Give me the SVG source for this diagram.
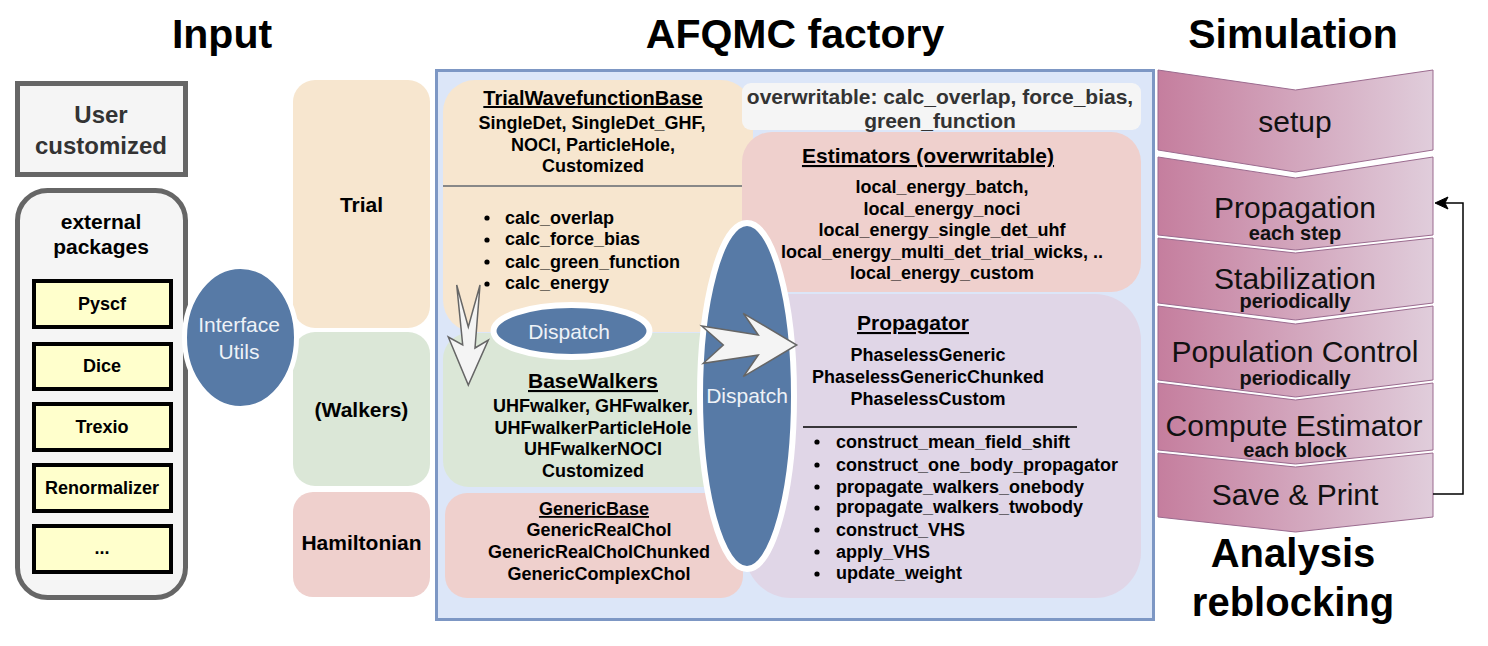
<svg xmlns="http://www.w3.org/2000/svg" width="1488" height="646" viewBox="0 0 1488 646">
<defs>
<linearGradient id="stepGrad" x1="0" y1="0" x2="1" y2="0">
<stop offset="0" stop-color="#c57e9e"/>
<stop offset="1" stop-color="#e0cddb"/>
</linearGradient>
</defs>
<style>
text{font-family:"Liberation Sans",Arial,Helvetica,sans-serif;}
.title{font-size:41px;font-weight:bold;fill:#000;text-anchor:middle;}
.b18{font-size:18px;font-weight:bold;fill:#000;}
.c{text-anchor:middle;}
.h21{font-size:21px;font-weight:bold;fill:#000;text-anchor:middle;text-decoration:underline;}
.lbl{font-size:21px;font-weight:bold;fill:#000;text-anchor:middle;}
.wt{font-size:21px;fill:#eef2f7;text-anchor:middle;}
.step{fill:url(#stepGrad);stroke:#9b6b8f;stroke-width:1;}
.st30{font-size:30px;fill:#111;text-anchor:middle;}
.st20{font-size:20px;font-weight:bold;fill:#111;text-anchor:middle;}
.ybox{fill:#ffffcc;stroke:#000;stroke-width:4;}
.disp{fill:#577aa6;stroke:#fff;stroke-width:6;}
.harrow{fill:#f4f4f4;stroke:#666;stroke-width:1.5;stroke-linejoin:miter;}
.dot{fill:#000;}
</style>

<!-- Titles -->
<text class="title" x="222" y="48">Input</text>
<text class="title" x="795" y="48">AFQMC factory</text>
<text class="title" x="1293" y="48">Simulation</text>

<!-- Input column -->
<g id="user-customized">
<rect x="17.5" y="83.5" width="168" height="91" fill="#f5f5f5" stroke="#666" stroke-width="5"/>
<text x="101" y="123" style="font-size:24px;font-weight:bold;fill:#333;text-anchor:middle">User</text>
<text x="101" y="154" style="font-size:24px;font-weight:bold;fill:#333;text-anchor:middle">customized</text>
</g>
<g id="external-packages">
<rect x="17.5" y="190.5" width="168" height="407" rx="30" fill="#f5f5f5" stroke="#666" stroke-width="5"/>
<text class="lbl" x="101" y="229">external</text>
<text class="lbl" x="101" y="254">packages</text>
</g>
<g id="pkg-pyscf"><rect class="ybox" x="34" y="281" width="137" height="46"/><text class="b18 c" x="102" y="310">Pyscf</text></g>
<g id="pkg-dice"><rect class="ybox" x="34" y="344" width="137" height="45"/><text class="b18 c" x="102" y="372">Dice</text></g>
<g id="pkg-trexio"><rect class="ybox" x="34" y="404" width="137" height="46"/><text class="b18 c" x="102" y="433">Trexio</text></g>
<g id="pkg-renormalizer"><rect class="ybox" x="34" y="465" width="137" height="46"/><text class="b18 c" x="102" y="494">Renormalizer</text></g>
<g id="pkg-more"><rect class="ybox" x="34" y="526" width="137" height="46"/><text class="b18 c" x="102" y="554">...</text></g>

<g id="trial"><rect x="293" y="80" width="137" height="248" rx="22" fill="#f7e6cf"/><text class="lbl" x="361.5" y="212">Trial</text></g>
<g id="walkers"><rect x="293" y="332" width="137" height="154" rx="22" fill="#dbe7d7"/><text class="lbl" x="361.5" y="417">(Walkers)</text></g>
<g id="hamiltonian"><rect x="293" y="492" width="137" height="105" rx="20" fill="#efd0cd"/><text class="lbl" x="361.5" y="550">Hamiltonian</text></g>

<g id="interface-utils">
<ellipse cx="240.5" cy="337.5" rx="56" ry="71" fill="#577aa6" stroke="#fff" stroke-width="5"/>
<text class="wt" x="239" y="332">Interface</text>
<text class="wt" x="239" y="359">Utils</text>
</g>

<!-- AFQMC factory -->
<g id="afqmc-factory">
<rect x="436.5" y="70.5" width="717" height="549" fill="#dce6f8" stroke="#7d97c4" stroke-width="3"/>
</g>

<g id="trial-wavefunction-base">
<rect x="443" y="80" width="310" height="252" rx="32" fill="#f7e6cf"/>
<line x1="443" y1="186" x2="742" y2="186" stroke="#888" stroke-width="2"/>
<text class="h21" x="593" y="105" style="font-size:20px">TrialWavefunctionBase</text>
<text class="b18 c" x="592" y="129">SingleDet, SingleDet_GHF,</text>
<text class="b18 c" x="593" y="151">NOCI, ParticleHole,</text>
<text class="b18 c" x="593" y="172">Customized</text>
<circle class="dot" cx="487" cy="218" r="2.6"/><text class="b18" x="505" y="224">calc_overlap</text>
<circle class="dot" cx="487" cy="240" r="2.6"/><text class="b18" x="505" y="245">calc_force_bias</text>
<circle class="dot" cx="487" cy="262" r="2.6"/><text class="b18" x="505" y="268">calc_green_function</text>
<circle class="dot" cx="487" cy="284" r="2.6"/><text class="b18" x="505" y="289">calc_energy</text>
</g>

<g id="base-walkers">
<rect x="443" y="333" width="320" height="154" rx="26" fill="#dbe7d7"/>
<text class="h21" x="593" y="388">BaseWalkers</text>
<text class="b18 c" x="593" y="412">UHFwalker, GHFwalker,</text>
<text class="b18 c" x="593" y="434">UHFwalkerParticleHole</text>
<text class="b18 c" x="593" y="455">UHFwalkerNOCI</text>
<text class="b18 c" x="593" y="477">Customized</text>
</g>

<g id="generic-base">
<rect x="445" y="493" width="298" height="105" rx="22" fill="#efd0cd"/>
<text class="b18 c" x="594" y="515" style="text-decoration:underline">GenericBase</text>
<text class="b18 c" x="599" y="536">GenericRealChol</text>
<text class="b18 c" x="599" y="558">GenericRealCholChunked</text>
<text class="b18 c" x="599" y="580">GenericComplexChol</text>
</g>

<g id="overwritable">
<rect x="742" y="83" width="399" height="47" rx="9" fill="#f5f5f5"/>
<text x="940" y="104" style="font-size:21px;font-weight:bold;fill:#333;text-anchor:middle">overwritable: calc_overlap, force_bias,</text>
<text x="940" y="128" style="font-size:21px;font-weight:bold;fill:#333;text-anchor:middle">green_function</text>
</g>

<g id="estimators">
<rect x="742" y="132" width="399" height="160" rx="30" fill="#efd0cd"/>
<text class="h21" x="928" y="163">Estimators (overwritable)</text>
<text class="b18 c" x="942" y="193">local_energy_batch,</text>
<text class="b18 c" x="942" y="215">local_energy_noci</text>
<text class="b18 c" x="942" y="236">local_energy_single_det_uhf</text>
<text class="b18 c" x="942" y="258">local_energy_multi_det_trial_wicks, ..</text>
<text class="b18 c" x="942" y="279">local_energy_custom</text>
</g>

<g id="propagator">
<rect x="745" y="294" width="396" height="304" rx="46" fill="#e0d6e7"/>
<text class="h21" x="913" y="330">Propagator</text>
<text class="b18 c" x="928" y="361">PhaselessGeneric</text>
<text class="b18 c" x="928" y="383">PhaselessGenericChunked</text>
<text class="b18 c" x="928" y="405">PhaselessCustom</text>
<line x1="803" y1="427" x2="1077" y2="427" stroke="#000" stroke-width="1.5"/>
<circle class="dot" cx="817" cy="442" r="2.6"/><text class="b18" x="836" y="448">construct_mean_field_shift</text>
<circle class="dot" cx="817" cy="465" r="2.6"/><text class="b18" x="836" y="471">construct_one_body_propagator</text>
<circle class="dot" cx="817" cy="487" r="2.6"/><text class="b18" x="836" y="493">propagate_walkers_onebody</text>
<circle class="dot" cx="817" cy="508" r="2.6"/><text class="b18" x="836" y="513">propagate_walkers_twobody</text>
<circle class="dot" cx="817" cy="530" r="2.6"/><text class="b18" x="836" y="536">construct_VHS</text>
<circle class="dot" cx="817" cy="552" r="2.6"/><text class="b18" x="836" y="558">apply_VHS</text>
<circle class="dot" cx="817" cy="574" r="2.6"/><text class="b18" x="836" y="579">update_weight</text>
</g>

<g id="dispatch-vertical">
<ellipse class="disp" cx="747" cy="396" rx="47" ry="173"/>
<text class="wt" x="747" y="403">Dispatch</text>
</g>

<g id="dispatch-horizontal">
<ellipse class="disp" cx="571.5" cy="331" rx="78" ry="26"/>
<text class="wt" x="569" y="339">Dispatch</text>
</g>

<!-- Simulation steps -->
<g id="step-setup">
<polygon class="step" points="1158,70 1295.5,90 1433,70 1433,150 1295.5,172 1158,150"/>
<text class="st30" x="1295" y="132">setup</text>
</g>
<g id="step-propagation">
<polygon class="step" points="1158,157 1295.5,178 1433,157 1433,235 1295.5,250 1158,235"/>
<text class="st30" x="1295" y="218">Propagation</text>
<text class="st20" x="1295" y="240">each step</text>
</g>
<g id="step-stabilization">
<polygon class="step" points="1158,238 1295.5,253 1433,238 1433,303 1295.5,320 1158,303"/>
<text class="st30" x="1295" y="289">Stabilization</text>
<text class="st20" x="1295" y="308">periodically</text>
</g>
<g id="step-population">
<polygon class="step" points="1158,306 1295.5,324 1433,306 1433,380 1295.5,397 1158,380"/>
<text class="st30" x="1295" y="362">Population Control</text>
<text class="st20" x="1295" y="385">periodically</text>
</g>
<g id="step-estimator">
<polygon class="step" points="1158,383 1295.5,400 1433,383 1433,450 1295.5,464 1158,450"/>
<text class="st30" x="1294" y="436">Compute Estimator</text>
<text class="st20" x="1295" y="457">each block</text>
</g>
<g id="step-save">
<polygon class="step" points="1158,453 1295.5,467 1433,453 1433,517 1295.5,532 1158,517"/>
<text class="st30" x="1295" y="505">Save &amp; Print</text>
</g>

<g id="analysis">
<text class="title" x="1293" y="567" style="font-size:40px">Analysis</text>
<text class="title" x="1293" y="616" style="font-size:40px">reblocking</text>
</g>

<!-- Connectors -->
<g id="connectors">
<polygon class="harrow" points="456.7,285 468.3,327 480,285 475,348 488.3,340 468.3,385 448.3,337 462.7,345"/>
<polygon class="harrow" points="701.7,326 758.3,335 743.3,313.3 796.7,345 743.3,376.7 758.3,355 703.3,363.3 723.3,345"/>
<path d="M1433,494 H1463 V203 H1444" fill="none" stroke="#000" stroke-width="1.5"/>
<polygon points="1435,203 1448,197 1445,203 1448,209" fill="#000" stroke="#000" stroke-width="1"/>
</g>
</svg>
